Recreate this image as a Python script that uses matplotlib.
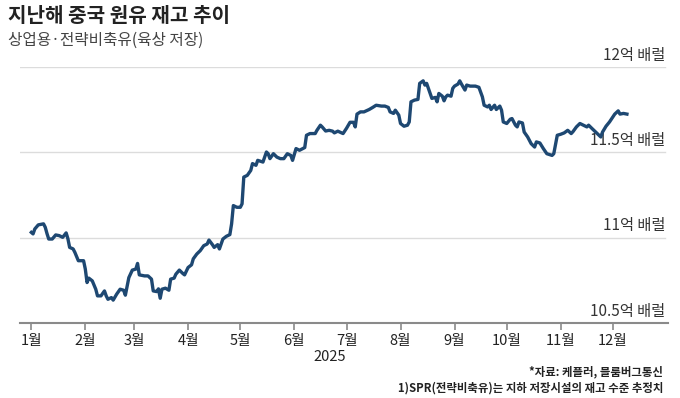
import matplotlib
matplotlib.use("Agg")
import matplotlib.pyplot as plt
import matplotlib.dates as mdates
import numpy as np
import pandas as pd

plt.rcParams['font.family'] = ['Noto Sans CJK KR', 'DejaVu Sans']

# Days since 2025-01-01 and crude stock level (억 배럴)
day_offset = [0, 1, 2, 4, 7, 8, 9, 10, 12, 14, 16, 18, 20, 21, 22, 24, 25, 27, 30, 31,
              32, 33, 35, 37, 38, 40, 42, 43, 44, 46, 47, 49, 51, 53, 54, 56, 58, 60, 61, 62,
              65, 67, 69, 70, 72, 73, 74, 75, 77, 79, 80, 82, 83, 85, 87, 88, 90, 92, 93, 95,
              97, 99, 101, 102, 104, 105, 107, 108, 110, 112, 114, 115, 116, 118, 120, 121, 122, 124, 126, 127,
              129, 130, 133, 135, 136, 137, 139, 141, 143, 145, 147, 149, 150, 152, 154, 157, 158, 160, 163, 164,
              166, 167, 169, 171, 173, 174, 176, 179, 181, 183, 185, 186, 187, 189, 191, 194, 196, 198, 201, 203,
              205, 206, 208, 209, 211, 212, 214, 216, 217, 218, 220, 222, 223, 225, 226, 227, 229, 230, 232, 233,
              234, 236, 237, 238, 239, 241, 242, 243, 245, 246, 247, 249, 250, 252, 255, 257, 259, 260, 262, 263,
              264, 266, 267, 269, 270, 271, 273, 275, 276, 278, 279, 280, 282, 283, 285, 287, 289, 290, 292, 294,
              296, 299, 300, 302, 304, 306, 308, 310, 311, 313, 315, 317, 319, 320, 322, 325, 327, 328, 330, 332,
              334, 335, 337, 338, 340, 342]
stock = [11.031, 11.022, 11.051, 11.075, 11.081, 11.061, 11.024, 10.992, 10.992, 11.016, 11.012, 11.002, 11.028, 10.994, 10.943, 10.934, 10.914, 10.865, 10.865, 10.816,
         10.737, 10.763, 10.747, 10.698, 10.659, 10.659, 10.688, 10.659, 10.639, 10.649, 10.634, 10.669, 10.698, 10.692, 10.663, 10.766, 10.810, 10.816, 10.849, 10.782,
         10.776, 10.776, 10.757, 10.688, 10.684, 10.700, 10.645, 10.698, 10.704, 10.692, 10.757, 10.763, 10.786, 10.810, 10.790, 10.782, 10.825, 10.841, 10.876, 10.904,
         10.924, 10.953, 10.963, 10.986, 10.959, 10.943, 10.959, 10.934, 10.992, 11.008, 11.018, 11.081, 11.188, 11.178, 11.178, 11.198, 11.355, 11.365, 11.394, 11.434,
         11.424, 11.453, 11.443, 11.502, 11.492, 11.463, 11.492, 11.472, 11.463, 11.463, 11.492, 11.482, 11.453, 11.522, 11.512, 11.528, 11.600, 11.610, 11.610, 11.629,
         11.659, 11.649, 11.625, 11.629, 11.624, 11.614, 11.624, 11.610, 11.641, 11.676, 11.676, 11.649, 11.724, 11.737, 11.737, 11.751, 11.763, 11.776, 11.771, 11.771,
         11.763, 11.737, 11.728, 11.747, 11.718, 11.669, 11.653, 11.659, 11.678, 11.796, 11.806, 11.810, 11.904, 11.919, 11.894, 11.904, 11.845, 11.816, 11.822, 11.796,
         11.845, 11.829, 11.802, 11.825, 11.835, 11.829, 11.875, 11.888, 11.900, 11.919, 11.900, 11.865, 11.894, 11.888, 11.888, 11.881, 11.825, 11.776, 11.766, 11.776,
         11.751, 11.776, 11.751, 11.771, 11.747, 11.678, 11.669, 11.694, 11.698, 11.659, 11.649, 11.678, 11.672, 11.619, 11.590, 11.551, 11.531, 11.561, 11.555, 11.522,
         11.492, 11.482, 11.492, 11.600, 11.606, 11.614, 11.629, 11.610, 11.621, 11.649, 11.669, 11.659, 11.649, 11.659, 11.639, 11.610, 11.590, 11.619, 11.653, 11.678,
         11.708, 11.724, 11.743, 11.724, 11.728, 11.724]

grid_values = [10.5, 11.0, 11.5, 12.0]
grid_labels = ['10.5억 배럴', '11억 배럴', '11.5억 배럴', '12억 배럴']
month_labels = ['1월', '2월', '3월', '4월', '5월', '6월', '7월', '8월', '9월', '10월', '11월', '12월']

title = '지난해 중국 원유 재고 추이'
subtitle = '상업용·전략비축유(육상 저장)'
year_label = '2025'
source_note = '*자료: 케플러, 블룸버그통신'
spr_note = '1)SPR(전략비축유)는 지하 저장시설의 재고 수준 추정치'

start = pd.Timestamp('2025-01-01')
dates = [start + pd.Timedelta(days=d) for d in day_offset]
month_starts = [pd.Timestamp(2025, m, 1) for m in range(1, 13)]

W, H = 680, 398
fig = plt.figure(figsize=(W / 100, H / 100), dpi=100)
fig.patch.set_facecolor('white')

ax = fig.add_axes([20 / W, 1 - 323 / H, (668 - 20) / W, (323 - 67) / H])
ax.set_facecolor('white')

x0 = mdates.date2num(pd.Timestamp('2024-12-25 12:00'))
x1 = mdates.date2num(pd.Timestamp('2026-01-01 14:00'))
ax.set_xlim(x0, x1)
ax.set_ylim(10.5, 12.0)

label_x = 665 / W
for v, lab in zip(grid_values, grid_labels):
    if v > 10.5:
        ax.axhline(v, color='#dcdcdc', lw=1.0, zorder=1, xmax=(665 - 20) / (668 - 20))
    ax.annotate(lab, xy=(label_x, v), xycoords=('figure fraction', 'data'),
                xytext=(0, 2.5), textcoords='offset points', ha='right', va='bottom',
                fontsize=11, color='#333333', zorder=2, annotation_clip=False)

ax.plot(dates, stock, color='#1e4872', lw=2.4, zorder=3, solid_joinstyle='round')

for s in ['top', 'right', 'left']:
    ax.spines[s].set_visible(False)
ax.spines['bottom'].set_color('#8a8a8a')
ax.spines['bottom'].set_linewidth(1.5)
ax.set_yticks([])
ax.set_xticks(month_starts)
ax.set_xticklabels(month_labels, fontsize=10.5, color='#222222')
ax.tick_params(axis='x', length=5, width=1.2, color='#8a8a8a', pad=3)

fig.text(8 / W, 1 - 16 / H, title, fontsize=14.5, fontweight='bold', color='#222222',
         ha='left', va='center')
fig.text(8 / W, 1 - 40 / H, subtitle, fontsize=11.3, fontweight='medium', color='#444444',
         ha='left', va='center')
fig.text(330 / W, 1 - 357 / H, year_label, fontsize=10.5, color='#222222', ha='center', va='center')
fig.text(663 / W, 1 - 372 / H, source_note, fontsize=8.2, fontweight='bold', color='#222222',
         ha='right', va='center')
fig.text(663 / W, 1 - 388 / H, spr_note, fontsize=8.2, fontweight='bold', color='#222222',
         ha='right', va='center')

fig.savefig('out.png', dpi=100, facecolor='white')
